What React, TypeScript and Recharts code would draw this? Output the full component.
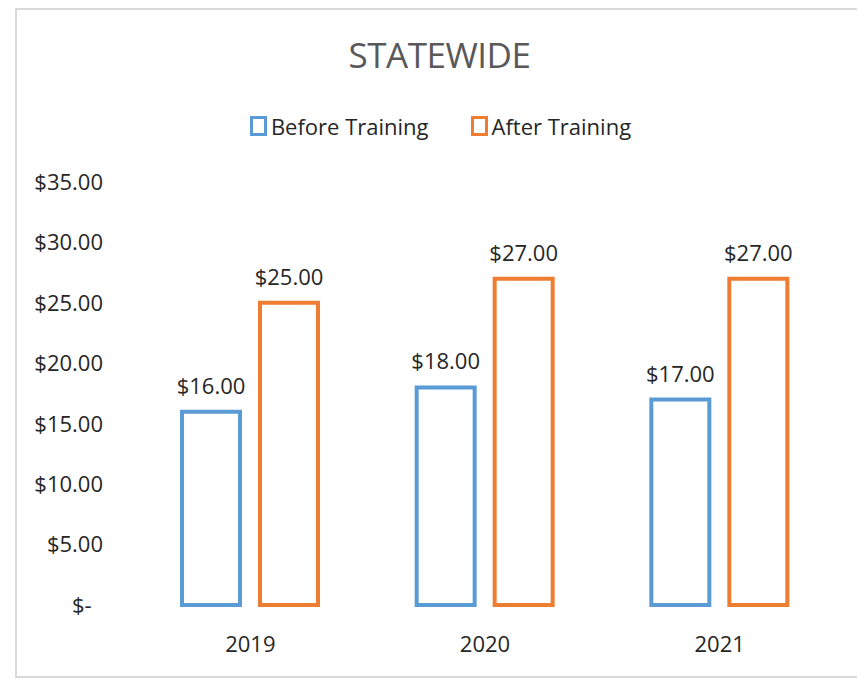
import { BarChart, Bar, XAxis, YAxis, LabelList } from "recharts";

const years = ["2019", "2020", "2021"];
const beforeTraining = [16, 18, 17];
const afterTraining = [25, 27, 27];
const yTicks = [0, 5, 10, 15, 20, 25, 30, 35];

const BLUE = "#5b9bd5";
const ORANGE = "#ed7d31";
const TEXT = "#262626";
const FONT = "'Open Sans', 'Liberation Sans', sans-serif";

const data = years.map((year, i) => ({
  year,
  before: beforeTraining[i],
  after: afterTraining[i],
}));

const money = (v: number) => (v === 0 ? "$-\u00a0\u00a0" : `$${v.toFixed(2)}`);

const legendItems = [
  { label: "Before Training", color: BLUE },
  { label: "After Training", color: ORANGE },
];

export default function App() {
  return (
    <div
      style={{
        position: "relative",
        marginLeft: 7,
        width: 845,
        height: 670,
        boxSizing: "border-box",
        border: "2px solid #d9d9d9",
        background: "#fff",
        fontFamily: FONT,
      }}
    >
      {/* title */}
      <div
        style={{
          position: "absolute",
          top: 27,
          left: 0,
          width: "100%",
          textAlign: "center",
          fontSize: 35,
          lineHeight: 1,
          letterSpacing: -0.5,
          color: "#595959",
          paddingLeft: 4,
          boxSizing: "border-box",
        }}
      >
        STATEWIDE
      </div>

      {/* legend */}
      <div
        style={{
          position: "absolute",
          top: 104,
          left: 0,
          width: "100%",
          height: 24,
          display: "flex",
          justifyContent: "center",
          alignItems: "center",
          gap: 42,
          paddingLeft: 6,
          boxSizing: "border-box",
        }}
      >
        {legendItems.map((it) => (
          <div key={it.label} style={{ display: "flex", alignItems: "center", gap: 4 }}>
            <svg width={17} height={20}>
              <rect x={1.5} y={1.5} width={14} height={17} fill="#fff" stroke={it.color} strokeWidth={3} />
            </svg>
            <span style={{ fontSize: 22, lineHeight: "24px", color: TEXT }}>{it.label}</span>
          </div>
        ))}
      </div>

      <BarChart
        width={841}
        height={666}
        data={data}
        margin={{ top: 172, right: 21, left: 0, bottom: 41 }}
        barSize={58}
        barGap={20}
      >
        <XAxis
          dataKey="year"
          axisLine={false}
          tickLine={false}
          tickSize={0}
          tickMargin={31}
          tick={{ fontSize: 22, fill: TEXT }}
        />
        <YAxis
          width={116}
          domain={[0, 35]}
          ticks={yTicks}
          interval={0}
          axisLine={false}
          tickLine={false}
          tickSize={0}
          tickMargin={30}
          tickFormatter={money}
          tick={{ fontSize: 22, fill: TEXT }}
        />
        <Bar dataKey="before" fill="#fff" stroke={BLUE} strokeWidth={4} isAnimationActive={false}>
          <LabelList dataKey="before" position="top" offset={18} formatter={money} style={{ fontSize: 22, fill: TEXT }} />
        </Bar>
        <Bar dataKey="after" fill="#fff" stroke={ORANGE} strokeWidth={4} isAnimationActive={false}>
          <LabelList dataKey="after" position="top" offset={18} formatter={money} style={{ fontSize: 22, fill: TEXT }} />
        </Bar>
      </BarChart>
    </div>
  );
}
